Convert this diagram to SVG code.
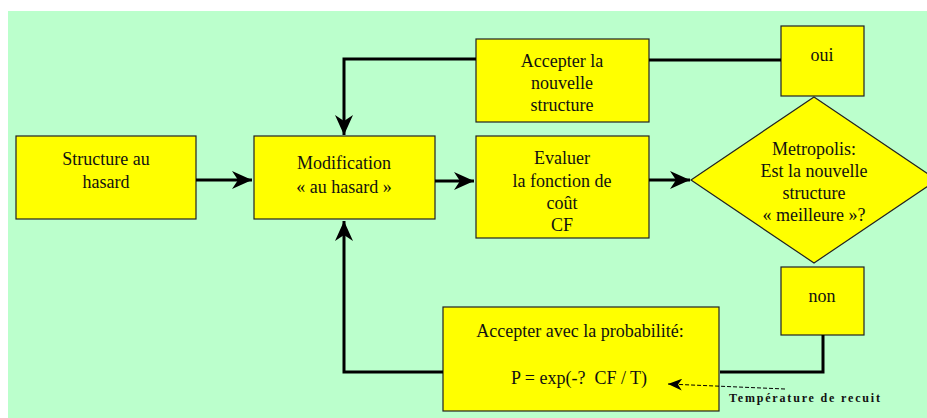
<svg xmlns="http://www.w3.org/2000/svg" width="927" height="418" viewBox="0 0 927 418">
<defs>
<style>
.bg{fill:#bbffcc}
.box{fill:#ffff00;stroke:#222;stroke-width:1.2}
.t{font-family:"Liberation Serif","Times New Roman",serif;font-size:18px;fill:#111;text-anchor:middle}
.c{fill:none;stroke:#000;stroke-width:3}
.d{fill:none;stroke:#000;stroke-width:1;stroke-dasharray:4 2}
.note{font-family:"Liberation Serif","Times New Roman",serif;font-size:12px;font-weight:bold;fill:#111}
</style>
<marker id="ah" viewBox="0 0 20 20" refX="20" refY="10" markerWidth="20" markerHeight="20" markerUnits="userSpaceOnUse" orient="auto">
<path d="M0,1 L20,10 L0,19 L6,10 z" fill="#000"/>
</marker>
<marker id="ahs" viewBox="0 0 14 12" refX="14" refY="6" markerWidth="14" markerHeight="12" markerUnits="userSpaceOnUse" orient="auto">
<path d="M0,0 L14,6 L0,12 L4,6 z" fill="#000"/>
</marker>
</defs>
<rect class="bg" x="8" y="11" width="919" height="407"/>
<g id="structure-hasard">
<rect class="box" x="16" y="136" width="180" height="83"/>
<text class="t" x="106" y="165">Structure au</text>
<text class="t" x="106" y="188">hasard</text>
</g>
<g id="modification">
<rect class="box" x="254" y="136" width="181" height="83"/>
<text class="t" x="344" y="169">Modification</text>
<text class="t" x="344" y="193">« au hasard »</text>
</g>
<g id="accepter">
<rect class="box" x="476" y="39" width="173" height="83"/>
<text class="t" x="562" y="67">Accepter la</text>
<text class="t" x="562" y="89">nouvelle</text>
<text class="t" x="562" y="111">structure</text>
</g>
<g id="evaluer">
<rect class="box" x="476" y="136" width="173" height="102"/>
<text class="t" x="562" y="164">Evaluer</text>
<text class="t" x="562" y="187">la fonction de</text>
<text class="t" x="562" y="209">coût</text>
<text class="t" x="562" y="231">CF</text>
</g>
<g id="metropolis">
<polygon class="box" points="814,97 937,180 814,263 691,180"/>
<text class="t" x="814" y="155">Metropolis:</text>
<text class="t" x="814" y="177">Est la nouvelle</text>
<text class="t" x="814" y="199">structure</text>
<text class="t" x="814" y="221">« meilleure »?</text>
</g>
<g id="oui">
<rect class="box" x="781" y="26" width="83" height="70"/>
<text class="t" x="822" y="61">oui</text>
</g>
<g id="non">
<rect class="box" x="781" y="267" width="83" height="68"/>
<text class="t" x="822" y="302">non</text>
</g>
<g id="probabilite">
<rect class="box" x="443" y="307" width="276" height="104"/>
<text class="t" x="580" y="337">Accepter avec la probabilité:</text>
<text class="t" x="579" y="384" xml:space="preserve">P = exp(-?  CF / T)</text>
</g>
<g id="temperature">
<text class="note" x="729" y="402" textLength="151" lengthAdjust="spacing">Température de recuit</text>
</g>
<g id="connectors">
<path class="c" d="M196,180 H252" marker-end="url(#ah)"/>
<path class="c" d="M435,181 H474" marker-end="url(#ah)"/>
<path class="c" d="M649,180 H690" marker-end="url(#ah)"/>
<path class="c" d="M476,59 H344 V135" marker-end="url(#ah)"/>
<path class="c" d="M649,60 H781"/>
<path class="c" d="M823,335 V372 H720"/>
<path class="c" d="M443,372 H344 V221" marker-end="url(#ah)"/>
<path class="d" d="M785,389 L668,384" marker-end="url(#ahs)"/>
</g>
</svg>
